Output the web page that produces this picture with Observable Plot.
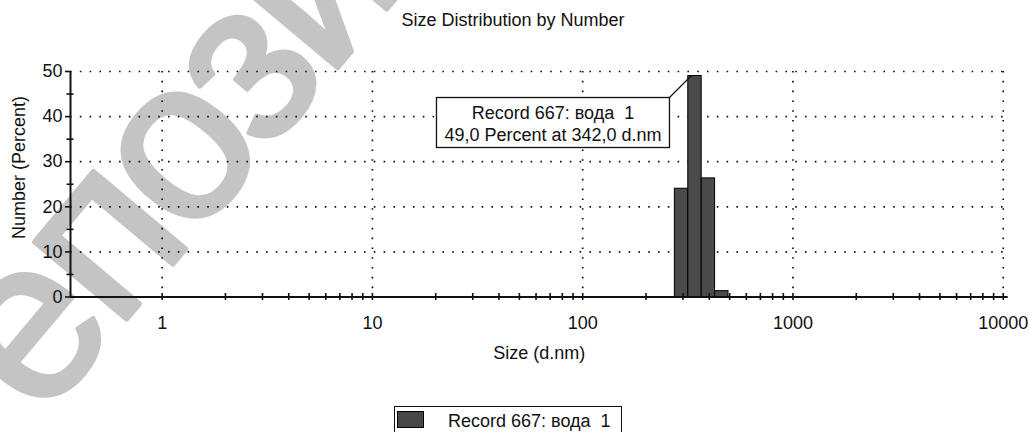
<!DOCTYPE html>
<html>
<head>
<meta charset="utf-8">
<script src="https://cdn.jsdelivr.net/npm/d3@7"></script>
<script src="https://cdn.jsdelivr.net/npm/@observablehq/plot@0.6"></script>
<style>
  body { margin: 0; background: #fff; }
  #wrap { position: relative; width: 1030px; height: 432px; overflow: hidden;
          font-family: "Liberation Sans", Arial, sans-serif; color: #111; }
  #wm { position: absolute; left: 0; top: 0; z-index: 0; }
  #title { position: absolute; left: 0; top: 11px; width: 1026px; text-align: center;
           font-size: 18px; line-height: 18px; z-index: 1; }
  #chart { position: absolute; left: 0; top: 40px; z-index: 1; }
  #legendBox { position: absolute; left: 393.5px; top: 405.5px; width: 226px; height: 40px;
               border: 1px solid #111; z-index: 1; }
  #legendSwatch { position: absolute; left: 397px; top: 411px; width: 25px; height: 15px;
                  background: #484848; border: 1px solid #000; z-index: 2; }
  #legendText { position: absolute; left: 448px; top: 411.5px; font-size: 18px; line-height: 18px;
                white-space: pre; z-index: 2; }
</style>
</head>
<body>
<div id="wrap">
  <svg id="wm" width="1030" height="432">
    <text x="-46" y="525" transform="rotate(-50,-46,525)" font-family="Liberation Sans, Arial, sans-serif"
          font-size="228" letter-spacing="-8" fill="#c4c4c4" stroke="#c4c4c4" stroke-width="5"
          stroke-linejoin="round">Репозиторий</text>
  </svg>
  <div id="title"></div>
  <div id="chart"></div>
  <div id="legendBox"></div>
  <div id="legendSwatch"></div>
  <div id="legendText"></div>
</div>
<script>
// ---- data ----
const chartTitle = "Size Distribution by Number";
const xLabel = "Size (d.nm)";
const yLabel = "Number (Percent)";
const seriesName = "Record 667: вода  1";

const sizes = [295.3, 342.0, 396.1, 458.7];      // d.nm, bin centres
const numbers = [24.0, 49.0, 26.3, 1.3];         // percent

const peakSize = 342.0;
const peakValue = 49.0;

const xMajorTicks = [1, 10, 100, 1000, 10000];
const xAllTicks = [1, 2, 3, 4, 5, 6, 7, 8, 9,
                   10, 20, 30, 40, 50, 60, 70, 80, 90,
                   100, 200, 300, 400, 500, 600, 700, 800, 900,
                   1000, 2000, 3000, 4000, 5000, 6000, 7000, 8000, 9000, 10000];
const yMajorTicks = [0, 10, 20, 30, 40, 50];
const yMinorTicks = [5, 15, 25, 35, 45];
const yGrid = [10, 20, 30, 40, 50];
const xDomain = [0.3665, 10560];
const yDomain = [0, 50];

// ---- build ----
const ratio = sizes[1] / sizes[0];
const bars = sizes.map((s, i) => ({lo: s / Math.sqrt(ratio), hi: s * Math.sqrt(ratio), value: numbers[i]}));
const fmtComma = v => v.toFixed(1).replace(".", ",");
const line1 = seriesName;
const line2 = `${fmtComma(peakValue)} Percent at ${fmtComma(peakSize)} d.nm`;

document.getElementById("title").textContent = chartTitle;
document.getElementById("legendText").textContent = seriesName;

const ink = "#111";
const dots = "1.6,8.2";

function peakAnnotation(index, scales) {
  const px = scales.x(peakSize), py = scales.y(peakValue);
  const bw = 233, bh = 50, right = px - 25, top = py + 22;
  const g = d3.create("svg:g").attr("font-size", 18).attr("fill", ink);
  g.append("line").attr("x1", right).attr("y1", top).attr("x2", px - 3).attr("y2", py)
    .attr("stroke", ink).attr("stroke-width", 1.2);
  g.append("rect").attr("x", right - bw).attr("y", top).attr("width", bw).attr("height", bh)
    .attr("fill", "white").attr("stroke", ink).attr("stroke-width", 1.3);
  g.append("text").attr("x", right - bw / 2).attr("y", top + 21.7).attr("text-anchor", "middle")
    .style("white-space", "pre").text(line1);
  g.append("text").attr("x", right - bw / 2).attr("y", top + 43.4).attr("text-anchor", "middle")
    .style("white-space", "pre").text(line2);
  return g.node();
}

function yAxisLabel(index, scales, values, dims) {
  const cx = dims.marginLeft - 45;
  const cy = (dims.marginTop + dims.height - dims.marginBottom) / 2 - 16.25;
  const t = d3.create("svg:text")
    .attr("transform", `translate(${cx},${cy}) rotate(-90)`)
    .attr("text-anchor", "middle").attr("font-size", 18).attr("fill", ink)
    .text(yLabel);
  return t.node();
}

const plot = Plot.plot({
  width: 1030,
  height: 332,
  marginLeft: 70,
  marginRight: 22.3,
  marginTop: 31,
  marginBottom: 75.5,
  style: {fontFamily: "Liberation Sans, Arial, sans-serif", fontSize: "18px", background: "transparent", overflow: "visible", color: ink},
  x: {type: "log", domain: xDomain},
  y: {domain: yDomain},
  marks: [
    Plot.ruleY(yGrid, {stroke: ink, strokeWidth: 1.7, strokeDasharray: dots}),
    Plot.ruleX(xMajorTicks, {stroke: ink, strokeWidth: 1.7, strokeDasharray: dots}),
    Plot.rectY(bars, {x1: "lo", x2: "hi", y: "value", fill: "#4a4a4a", stroke: "#000", strokeWidth: 1}),
    Plot.ruleY([0], {stroke: ink, strokeWidth: 2}),
    Plot.ruleX([xDomain[0]], {stroke: ink, strokeWidth: 2}),
    Plot.axisX(xAllTicks, {tickSize: 7, dy: -3.5, tickFormat: () => "", strokeWidth: 1.6, label: null}),
    Plot.axisX(xMajorTicks, {tickSize: 0, tickPadding: 19, tickFormat: d => String(d), fill: ink, label: null}),
    Plot.axisY(yMajorTicks, {tickSize: 5, tickPadding: 3, tickFormat: d => String(d), strokeWidth: 1.6, fill: ink, label: null}),
    Plot.axisY(yMinorTicks, {tickSize: 7, dx: 3.5, tickFormat: () => "", strokeWidth: 1.6, label: null}),
    Plot.text([xLabel], {text: d => d, frameAnchor: "bottom", dy: 62, lineAnchor: "bottom", fill: ink}),
    yAxisLabel,
    peakAnnotation
  ]
});
document.getElementById("chart").appendChild(plot);
</script>
</body>
</html>
